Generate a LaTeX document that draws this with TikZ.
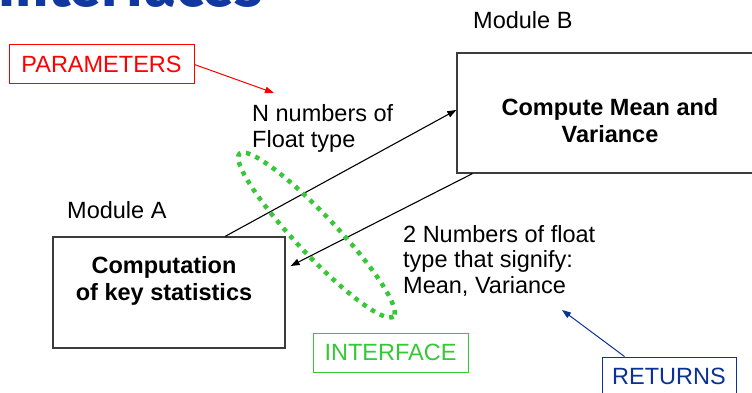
\documentclass[tikz,border=0pt]{standalone}
\usepackage{fontspec}
\setmainfont{Liberation Sans}
\newfontfamily\titlefont{Fira Sans}
\usetikzlibrary{arrows.meta,calc}
\definecolor{ifgreen}{RGB}{55,200,55}
\definecolor{retblue}{RGB}{10,50,150}
\definecolor{titleblue}{RGB}{16,56,160}
\definecolor{boxgray}{RGB}{60,60,60}
\tikzset{
  txt/.style={inner sep=0pt, font=\fontsize{23.5}{25.5}\selectfont},
  boldtxt/.style={inner sep=0pt, align=center, font=\fontsize{23.5}{27}\selectfont\bfseries},
  modbox/.style={draw=boxgray, line width=1.3pt, inner sep=0pt},
  tagbox/.style={draw, line width=1pt, inner sep=0pt, font=\fontsize{23.5}{26}\selectfont},
  arr/.style={line width=1.1pt, -{Triangle[length=9pt,width=6.5pt]}},
  ifdots/.style={draw=ifgreen, line width=4.5pt, dash pattern=on 4.5pt off 5.5pt}
}
\begin{document}
\begin{tikzpicture}[x=1pt,y=-1pt]
\useasboundingbox (0,0) rectangle (752,393);
\clip (0,0) rectangle (752,393);
\fill[white] (0,0) rectangle (752,393);
% partial title (cut off at the top edge, as in the reference)
\node[inner sep=0pt, anchor=base east, text=titleblue, font=\titlefont\fontsize{58}{58}\selectfont\bfseries] (title) at (263,7) {Interfaces};
% boxes
\node[modbox, minimum width=232pt, minimum height=111pt] (A) at (169,292.5) {};
\node[boldtxt] (Atext) at (164,281) {Computation\\of key statistics};
\node[modbox, minimum width=323pt, minimum height=120pt] (B) at (618.5,113) {};
\node[boldtxt] (Btext) at (610,121) {Compute Mean and\\Variance};
\node[txt, anchor=base west] (modA) at (67,218) {Module A};
\node[txt, anchor=base west] (modB) at (473,29) {Module B};
% texts
\node[txt, anchor=north west, align=left] (ntext) at (252,104.5) {N numbers of\\Float type};
\node[txt, anchor=north west, align=left] (rtext) at (403,225) {2 Numbers of float\\type that signify:\\Mean, Variance};
% connectors
\draw[arr] ($(A.north west)!0.741!(A.north east)$) -- ($(B.north west)!0.475!(B.south west)$);
\draw[arr] ([xshift=16pt]B.south west) -- ([xshift=5pt,yshift=26.5pt]A.east);
% interface ellipse
\draw[ifdots, rotate around={-46.6:(316.5,235)}] (316.5,235) ellipse [x radius=112, y radius=20];
% tags
\node[tagbox, draw=red, text=red, minimum width=185pt, minimum height=39pt] (P) at (101.5,64.5) {PARAMETERS};
\coordinate (ptip) at (274,93);
\draw[red, line width=1pt, -{Triangle[length=9pt,width=6.5pt]}] (P.east) -- (ptip);
\node[tagbox, draw=ifgreen, text=ifgreen, minimum width=155pt, minimum height=39pt] (I) at (390.5,352.5) {INTERFACE};
\node[tagbox, draw=retblue, text=retblue, minimum width=134pt, minimum height=39pt] (R) at (669,376.5) {RETURNS};
\coordinate (rtip) at (562,310);
\draw[retblue, line width=1pt, -{Triangle[length=9pt,width=6.5pt]}] ([xshift=23pt]R.north west) -- (rtip);
\end{tikzpicture}
\end{document}
